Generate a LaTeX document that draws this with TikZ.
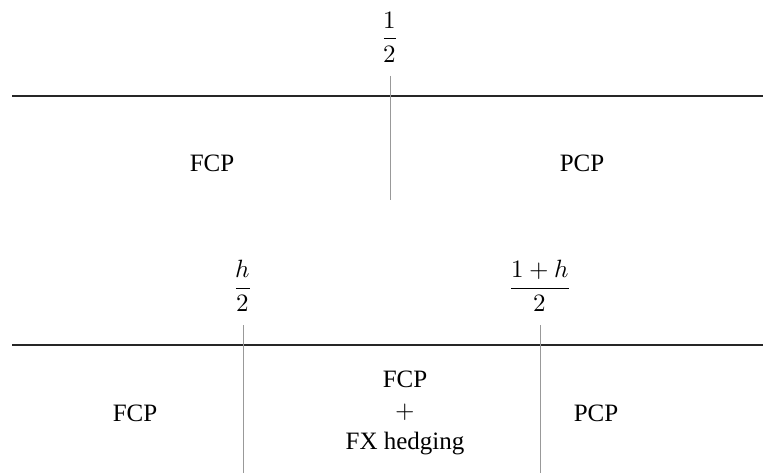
\documentclass[tikz,border=0pt]{standalone}
\usepackage{unicode-math}
\setmainfont{Liberation Serif}
\setmathfont{Latin Modern Math}
\begin{document}
\begin{tikzpicture}[x=1pt,y=-1pt,
  hline/.style={draw=black!85,line width=1.1pt},
  vline/.style={draw=black!40,line width=0.8pt},
  lab/.style={font=\fontsize{25}{31}\selectfont,inner sep=0pt,align=center},
  frac/.style={font=\fontsize{25}{30}\selectfont,inner sep=0pt}]
\useasboundingbox (0,0) rectangle (763,473);
% top
\coordinate (t1) at (12,96);
\coordinate (t2) at (763,96);
\draw[hline] (t1) -- (t2);
\coordinate (tv1) at (390,76);
\coordinate (tv2) at (390,200);
\draw[vline] (tv1) -- (tv2);
\node[frac] (half) at (390,37) {$\displaystyle\frac{1}{2}$};
\node[lab] (fcp1) at (212,163) {FCP};
\node[lab] (pcp1) at (582,163) {PCP};
% bottom
\coordinate (b1) at (12,345);
\coordinate (b2) at (763,345);
\draw[hline] (b1) -- (b2);
\coordinate (bv1) at (243,325);
\coordinate (bv2) at (243,473);
\coordinate (bw1) at (540,325);
\coordinate (bw2) at (540,473);
\draw[vline] (bv1) -- (bv2);
\draw[vline] (bw1) -- (bw2);
\node[frac] (hh) at (243,286) {$\displaystyle\frac{h}{2}$};
\node[frac] (oh) at (540,286) {$\displaystyle\frac{1+h}{2}$};
\node[lab] (fcp2) at (135,413) {FCP};
\node[lab] (mid) at (405,413) {FCP\\$+$\\FX hedging};
\node[lab] (pcp2) at (596,413) {PCP};
\end{tikzpicture}
\end{document}
